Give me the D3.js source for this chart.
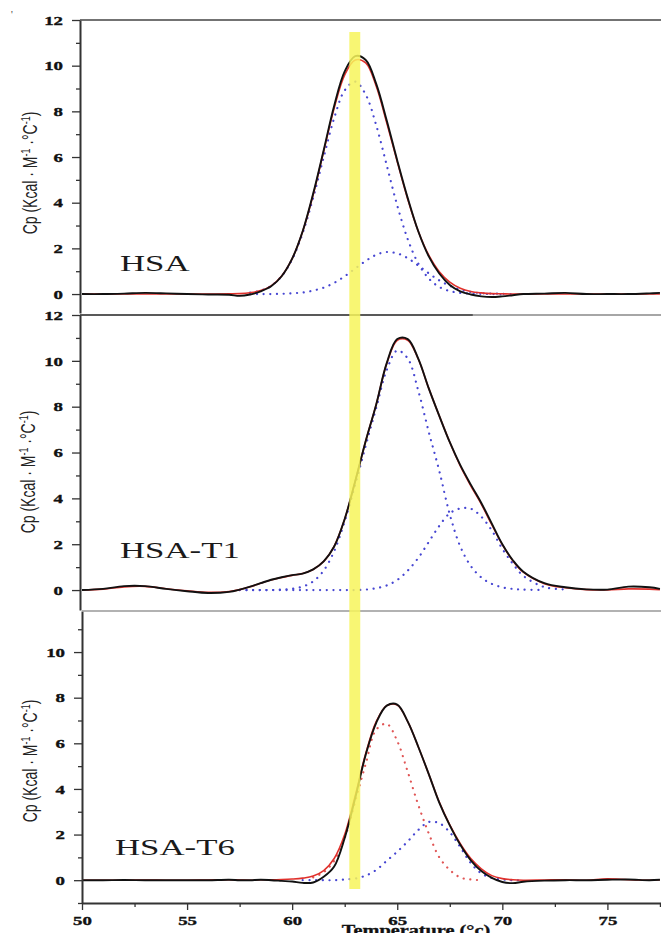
<!DOCTYPE html>
<html lang="en">
<head>
<meta charset="UTF-8">
<title>DSC thermograms of HSA, HSA-T1, HSA-T6</title>
<style>
  body { margin:0; background:#fff; }
  svg { display:block; background:#fff; }
  .axis .domain { stroke:#333; stroke-width:2; }
  .axis line { stroke:#333; stroke-width:1.3; }
</style>
</head>
<body>
<svg width="661" height="933"></svg>
<script src="https://d3js.org/d3.v7.min.js"></script>
<script>
// temperature grid (°C) shared by every series
var temps = [50, 51, 52, 53, 54, 55, 56, 57,
             57.5, 58, 58.5, 59, 59.5, 60, 60.5, 61,
             61.5, 62, 62.5, 63, 63.5, 64, 64.5, 65,
             65.5, 66, 66.5, 67, 67.5, 68, 68.5, 69,
             69.5, 70, 70.5, 71, 72, 73, 74, 75, 76, 77, 77.5];

// HSA
var hsaData  = [0, 0, 0.02, 0.05, 0.03, 0, -0.02, -0.03,
                -0.08, -0.02, 0.12, 0.34, 0.78, 1.55, 2.75, 4.4,
                6.3, 8.25, 9.75, 10.42, 10.25, 9.2, 7.6, 5.85,
                4.2, 2.75, 1.65, 0.9, 0.4, 0.12, -0.02, -0.1,
                -0.13, -0.1, -0.05, 0, 0.02, 0.05, 0, 0, 0, 0.03, 0.05];
var hsaFit   = [0, 0, 0, 0, 0, 0, 0, 0.01,
                0.02, 0.06, 0.15, 0.36, 0.79, 1.55, 2.74, 4.35,
                6.25, 8.15, 9.6, 10.25, 10.12, 9.1, 7.5, 5.8,
                4.15, 2.75, 1.7, 0.98, 0.52, 0.25, 0.11, 0.05,
                0.02, 0.01, 0, 0, 0, 0, 0, 0, 0, 0, 0];
var hsaPeak1 = [0, 0, 0, 0, 0, 0, 0, 0.01,
                0.02, 0.06, 0.15, 0.36, 0.78, 1.52, 2.67, 4.22,
                6.0, 7.71, 8.92, 9.3, 8.73, 7.39, 5.64, 3.88,
                2.4, 1.34, 0.68, 0.31, 0.13, 0.05, 0.02, 0.01,
                0, 0, 0, 0, 0, 0, 0, 0, 0, 0, 0];
var hsaPeak2 = [0, 0, 0, 0, 0, 0, 0, 0,
                0, 0, 0, 0, 0.01, 0.03, 0.07, 0.15,
                0.28, 0.49, 0.78, 1.12, 1.45, 1.72, 1.84, 1.78,
                1.57, 1.25, 0.91, 0.6, 0.36, 0.19, 0.09, 0.04,
                0.02, 0.01, 0, 0, 0, 0, 0, 0, 0, 0, 0];

// HSA-T1
var t1Data  = [0, 0.05, 0.17, 0.17, 0.05, -0.05, -0.13, -0.08,
               0.02, 0.15, 0.3, 0.45, 0.56, 0.65, 0.72, 0.9,
               1.25, 1.9, 3.1, 4.75, 6.5, 8.1, 9.9, 10.95,
               10.95, 10.1, 8.8, 7.6, 6.45, 5.45, 4.6, 3.8,
               2.9, 2.0, 1.3, 0.8, 0.3, 0.12, 0.03, 0.02, 0.15, 0.12, 0.05];
var t1Fit   = [0, 0.04, 0.14, 0.16, 0.06, -0.03, -0.1, -0.06,
               0.02, 0.14, 0.3, 0.44, 0.55, 0.64, 0.72, 0.9,
               1.25, 1.92, 3.1, 4.75, 6.5, 8.1, 9.88, 10.9,
               10.9, 10.08, 8.8, 7.6, 6.45, 5.42, 4.55, 3.75,
               2.85, 1.98, 1.28, 0.78, 0.28, 0.1, 0.02, 0.01, 0.05, 0.04, 0.02];
var t1Peak1 = [0, 0, 0, 0, 0, 0, 0, 0,
               0, 0, 0, 0, 0.02, 0.06, 0.15, 0.38,
               0.85, 1.7, 3.0, 4.6, 6.3, 7.95, 9.6, 10.45,
               10.1, 8.7, 6.9, 5.2, 3.3, 1.9, 1.05, 0.55,
               0.27, 0.12, 0.05, 0.02, 0, 0, 0, 0, 0, 0, 0];
var t1Peak2 = [0, 0, 0, 0, 0, 0, 0, 0,
               0, 0, 0, 0, 0, 0, 0, 0,
               0, 0, 0, 0, 0.02, 0.08, 0.2, 0.44,
               0.85, 1.4, 2.1, 2.8, 3.35, 3.56, 3.55, 3.2,
               2.6, 1.8, 1.15, 0.62, 0.13, 0.03, 0, 0, 0, 0, 0];

// HSA-T6
var t6Data  = [0, 0, 0.01, 0, 0, 0, 0, 0.02,
               0, 0, 0.02, 0, -0.03, -0.06, -0.12, -0.1,
               0.15, 0.6, 1.85, 3.6, 5.5, 6.9, 7.65, 7.7,
               6.95, 5.85, 4.65, 3.4, 2.4, 1.55, 0.87, 0.4,
               0.1, -0.08, -0.13, -0.07, -0.02, 0, 0, 0.02, 0.03, 0, 0.02];
var t6Fit   = [0, 0, 0, 0.01, 0, 0, 0.01, 0.02,
               0.01, 0, 0.02, 0.02, 0.03, 0.05, 0.09, 0.18,
               0.42, 0.95, 2.0, 3.7, 5.55, 6.95, 7.65, 7.68,
               6.95, 5.85, 4.65, 3.42, 2.42, 1.6, 0.95, 0.5,
               0.2, 0.07, 0.02, 0, 0.01, 0.02, 0, 0.06, 0.02, 0, 0.02];
var t6Peak1 = [0, 0, 0, 0, 0, 0, 0, 0,
               0, 0, 0, 0, 0.01, 0.02, 0.05, 0.12,
               0.35, 0.85, 1.85, 3.45, 5.1, 6.6, 6.85, 6.1,
               4.75, 3.3, 2.05, 1.0, 0.45, 0.12, 0.03, 0,
               0, 0, 0, 0, 0, 0, 0, 0, 0, 0, 0];
var t6Peak2 = [0, 0, 0, 0, 0, 0, 0, 0,
               0, 0, 0, 0, 0, 0, 0, 0,
               0, 0, 0.03, 0.07, 0.2, 0.45, 0.85, 1.25,
               1.7, 2.2, 2.55, 2.5, 2.1, 1.45, 0.75, 0.3,
               0.1, 0.03, 0, 0, 0, 0, 0, 0, 0, 0, 0];

var panelNames = ["HSA", "HSA-T1", "HSA-T6"];
var yMajor = [0, 2, 4, 6, 8, 10, 12];
var yMinor = [-1, 1, 3, 5, 7, 9, 11];
var xMajor = [50, 55, 60, 65, 70, 75];
var xMinor = [52.5, 57.5, 62.5, 67.5, 72.5, 77.5];
var band = [62.72, 63.24];   // highlighted temperature
var yTitle = "Cp (Kcal \u00b7 M";

var BLUE = "#4646d2", RED = "#e0312c", RED_DOT = "#e05555", SX = 1.45;  // image is stretched sideways
var SERIF = "'Liberation Serif','Times New Roman',serif";

var svg = d3.select("svg");
var x = d3.scaleLinear().domain([50, 77.55]).range([82, 661]);

var panels = [
  {name: panelNames[0], top: 20,  bottom: 313, yMin: -0.83, yMax: 12, axisX: 80,
   data: hsaData, fit: hsaFit, p1: hsaPeak1, p2: hsaPeak2, p1Color: BLUE,
   r1: [58, 70], r2: [58, 70.5], lx: 120, ly: 271, tx: 37, ty: 173},
  {name: panelNames[1], top: 315, bottom: 610, yMin: -0.87, yMax: 12, axisX: 80,
   data: t1Data, fit: t1Fit, p1: t1Peak1, p2: t1Peak2, p1Color: BLUE,
   r1: [57.5, 72], r2: [57.5, 73], lx: 120, ly: 558, tx: 35, ty: 472},
  {name: panelNames[2], top: 611, bottom: 903, yMin: -1, yMax: 11.8, axisX: 82,
   data: t6Data, fit: t6Fit, p1: t6Peak1, p2: t6Peak2, p1Color: RED_DOT,
   r1: [61, 69.2], r2: [60.5, 71], lx: 115, ly: 855, tx: 37, ty: 761}
];

function pts(vals){ return temps.map(function(t, i){ return [t, vals[i]]; }); }

function styleTicks(sel){
    sel.selectAll("text")
        .attr("font-family", SERIF).attr("font-weight", "bold").attr("font-size", 13)
        .attr("fill", "#111").attr("stroke", "#111").attr("stroke-width", 0.35)
        .attr("transform", "scale(" + SX + ",1)");
}

panels.forEach(function(p, k){
    var y = d3.scaleLinear().domain([p.yMin, p.yMax]).range([p.bottom, p.top]);
    var g = svg.append("g");

    g.append("clipPath").attr("id", "clip" + k)
      .append("rect").attr("x", p.axisX).attr("y", p.top).attr("width", 661 - p.axisX).attr("height", p.bottom - p.top);

    var line = d3.line().x(function(d){ return x(d[0]); }).y(function(d){ return y(d[1]); })
        .curve(d3.curveCatmullRom);
    var plot = g.append("g").attr("clip-path", "url(#clip" + k + ")");

    // deconvoluted peaks (dotted)
    [[p.p1, p.p1Color, p.r1], [p.p2, BLUE, p.r2]].forEach(function(s){
        var l = d3.line().defined(function(d){ return d[0] >= s[2][0] && d[0] <= s[2][1]; })
            .x(function(d){ return x(d[0]); }).y(function(d){ return y(d[1]); })
            .curve(d3.curveCatmullRom);
        plot.append("path").attr("d", l(pts(s[0])))
            .attr("fill", "none").attr("stroke", s[1]).attr("stroke-width", 2.2)
            .attr("stroke-linecap", "round").attr("stroke-dasharray", "0.1,6.6");
    });
    plot.append("path").attr("d", line(pts(p.fit)))
        .attr("fill", "none").attr("stroke", RED).attr("stroke-width", 1.6);
    plot.append("path").attr("d", line(pts(p.data)))
        .attr("fill", "none").attr("stroke", "#111").attr("stroke-width", 1.9);

    // y axis, major + minor ticks
    var majors = yMajor.filter(function(v){ return v <= p.yMax; });
    var minors = yMinor.filter(function(v){ return v >= p.yMin && v <= p.yMax; });
    g.append("g").attr("class", "axis").attr("transform", "translate(" + p.axisX + ",0)")
        .call(d3.axisLeft(y).tickValues(majors).tickSize(8).tickSizeOuter(0).tickPadding(3.7))
        .call(styleTicks);
    g.append("g").attr("class", "axis").attr("transform", "translate(" + p.axisX + ",0)")
        .call(d3.axisLeft(y).tickValues(minors).tickSize(4).tickFormat(""))
        .select(".domain").remove();

    // sample label
    g.append("g").attr("transform", "translate(" + p.lx + "," + p.ly + ") scale(" + SX + ",1)")
      .append("text").text(p.name)
        .attr("font-family", SERIF)
        .attr("font-size", 24).attr("fill", "#1a1a1a");

    // y title
    var t = g.append("g").attr("transform", "translate(" + p.tx + "," + p.ty + ") scale(" + SX + ",1) rotate(-90)")
      .append("text").attr("text-anchor", "middle")
        .attr("font-family", "'Liberation Sans',Arial,sans-serif")
        .attr("font-size", 14).attr("fill", "#222");
    t.append("tspan").text(yTitle);
    t.append("tspan").attr("dy", -5).attr("font-size", 9).text("-1");
    t.append("tspan").attr("dy", 5).text(" \u00b7\u00b0C");
    t.append("tspan").attr("dy", -5).attr("font-size", 9).text("-1");
    t.append("tspan").attr("dy", 5).text(")");
});

// panel frame lines
svg.append("line").attr("x1", 80).attr("x2", 661).attr("y1", 20).attr("y2", 20)
    .attr("stroke", "#444").attr("stroke-width", 1.6);
svg.append("line").attr("x1", 80).attr("x2", x(68.6)).attr("y1", 315).attr("y2", 315)
    .attr("stroke", "#222").attr("stroke-width", 1.6);
svg.append("line").attr("x1", x(68.6)).attr("x2", 661).attr("y1", 315).attr("y2", 315)
    .attr("stroke", "#888").attr("stroke-width", 1.4);
svg.append("line").attr("x1", 82).attr("x2", 661).attr("y1", 611).attr("y2", 611)
    .attr("stroke", "#999").attr("stroke-width", 1.4);

// x axis
svg.append("g").attr("class", "axis").attr("transform", "translate(0,903)")
    .call(d3.axisBottom(x).tickValues(xMajor).tickSize(7).tickSizeOuter(0).tickPadding(5.5))
    .call(styleTicks);
svg.append("g").attr("class", "axis").attr("transform", "translate(0,903)")
    .call(d3.axisBottom(x).tickValues(xMinor).tickSize(4).tickFormat(""))
    .select(".domain").remove();

svg.append("g").attr("transform", "translate(416,935) scale(" + SX + ",1)")
  .append("text").attr("text-anchor", "middle")
    .attr("font-family", SERIF)
    .attr("font-weight", "bold").attr("font-size", 14).attr("fill", "#111")
    .attr("stroke", "#111").attr("stroke-width", 0.3)
    .text("Temperature (\u00b0c)");

svg.append("text").attr("x", 11).attr("y", 18).attr("font-size", 10).attr("fill", "#333").text("'");

// highlight band
svg.append("rect")
    .attr("x", x(band[0])).attr("width", x(band[1]) - x(band[0]))
    .attr("y", 32).attr("height", 857)
    .attr("fill", "#f7f55a").attr("opacity", 0.85);
</script>
</body>
</html>
